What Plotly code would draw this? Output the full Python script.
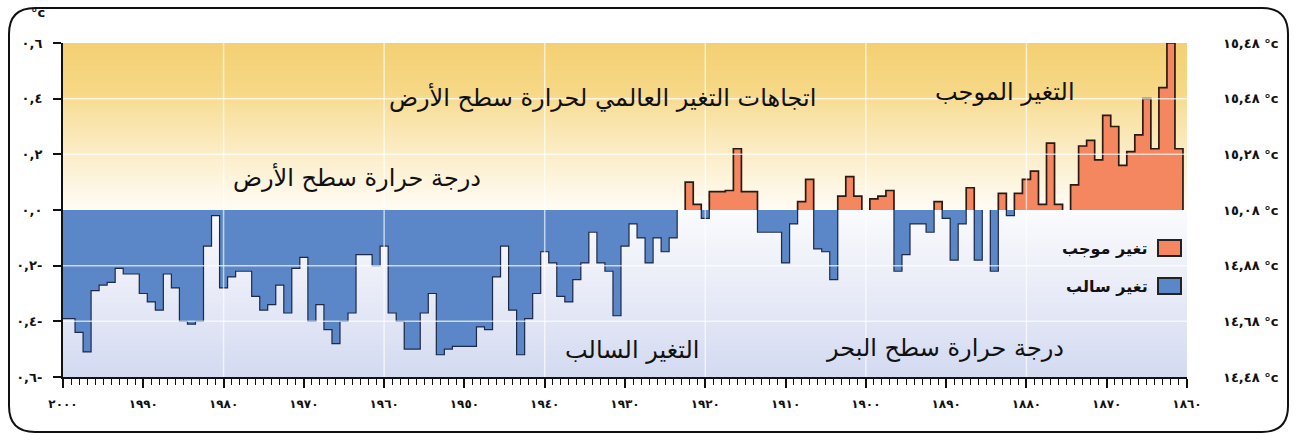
import plotly.graph_objects as go

# ---------------- data ----------------
years = list(range(2000, 1859, -1))
anomaly = [
    -0.39, -0.39, -0.44, -0.51, -0.29, -0.27, -0.26, -0.21, -0.23, -0.23,   # 2000-1991
    -0.30, -0.33, -0.36, -0.23, -0.28, -0.40, -0.41, -0.40, -0.13, -0.02,   # 1990-1981
    -0.28, -0.24, -0.22, -0.22, -0.31, -0.36, -0.34, -0.27, -0.37, -0.21,   # 1980-1971
    -0.17, -0.40, -0.34, -0.43, -0.48, -0.40, -0.37, -0.16, -0.16, -0.20,   # 1970-1961
    -0.13, -0.37, -0.40, -0.50, -0.50, -0.37, -0.30, -0.52, -0.50, -0.49,   # 1960-1951
    -0.49, -0.49, -0.42, -0.43, -0.24, -0.13, -0.36, -0.52, -0.39, -0.30,   # 1950-1941
    -0.15, -0.19, -0.31, -0.33, -0.25, -0.19, -0.08, -0.19, -0.22, -0.38,   # 1940-1931
    -0.13, -0.05, -0.10, -0.19, -0.10, -0.15, -0.10, 0.00, 0.10, 0.02,      # 1930-1921
    -0.03, 0.066, 0.066, 0.07, 0.22, 0.066, 0.066, -0.08, -0.08, -0.08,     # 1920-1911
    -0.19, -0.05, 0.03, 0.11, -0.14, -0.15, -0.25, 0.05, 0.12, 0.05,        # 1910-1901
    0.00, 0.04, 0.05, 0.07, -0.22, -0.16, -0.05, -0.05, -0.08, 0.03,        # 1900-1891
    -0.03, -0.18, -0.05, 0.08, -0.18, 0.00, -0.22, 0.06, -0.02, 0.06,       # 1890-1881
    0.11, 0.14, 0.02, 0.24, 0.02, 0.00, 0.09, 0.23, 0.25, 0.18,             # 1880-1871
    0.34, 0.30, 0.16, 0.21, 0.27, 0.40, 0.22, 0.44, 0.60, 0.22,             # 1870-1861
    0.00,                                                                    # 1860
]

x_tick_vals = list(range(2000, 1859, -10))
x_tick_text = ["٢٠٠٠", "١٩٩٠", "١٩٨٠", "١٩٧٠", "١٩٦٠", "١٩٥٠", "١٩٤٠", "١٩٣٠",
               "١٩٢٠", "١٩١٠", "١٩٠٠", "١٨٩٠", "١٨٨٠", "١٨٧٠", "١٨٦٠"]
y_tick_vals = [-0.6, -0.4, -0.2, 0.0, 0.2, 0.4, 0.6]
y_tick_text = ["٠,٦-", "٠,٤-", "٠,٢-", "٠,٠", "٠,٢", "٠,٤", "٠,٦"]
y2_tick_text = ["١٤,٤٨ °c", "١٤,٦٨ °c", "١٤,٨٨ °c", "١٥,٠٨ °c", "١٥,٢٨ °c", "١٥,٤٨ °c", "١٥,٤٨ °c"]

legend_labels = ["تغير موجب", "تغير سالب"]
title_text = "اتجاهات التغير العالمي لحرارة سطح الأرض"
label_pos = "التغير الموجب"
label_neg = "التغير السالب"
label_land = "درجة حرارة سطح الأرض"
label_sea = "درجة حرارة سطح البحر"

POS_COLOR = "#f4875f"
NEG_COLOR = "#5b86c7"

# ---------------- geometry helpers (pixels -> paper) ----------------
W, H = 1296, 440
L, R, T, B = 63, 109, 43, 63
PW, PH = W - L - R, H - T - B


def px(xp):
    return (xp - L) / PW


def py(yp):
    return (H - B - yp) / PH


def hex2rgb(h):
    h = h.lstrip("#")
    return [int(h[i:i + 2], 16) for i in (0, 2, 4)]


def interp(stops, t):
    for (t0, c0), (t1, c1) in zip(stops[:-1], stops[1:]):
        if t0 <= t <= t1:
            f = 0 if t1 == t0 else (t - t0) / (t1 - t0)
            a, b = hex2rgb(c0), hex2rgb(c1)
            return "rgb(%d,%d,%d)" % tuple(round(a[k] + (b[k] - a[k]) * f) for k in range(3))
    return stops[-1][1]


def step_outline(yrs, vals):
    xs, ys = [], []
    prev = 0.0
    pairs = sorted(zip(yrs, vals))
    for yr, v in pairs:
        left, right = yr - 0.5, yr + 0.5
        if v == 0:
            if prev != 0:
                xs += [left, None]
                ys += [0, None]
            prev = 0.0
            continue
        if prev == 0:
            xs.append(left)
            ys.append(0)
        xs += [left, right]
        ys += [v, v]
        prev = v
    if prev != 0:
        xs.append(pairs[-1][0] + 0.5)
        ys.append(0)
    return xs, ys


pos_vals = [v if v > 0 else 0 for v in anomaly]
neg_vals = [v if v < 0 else 0 for v in anomaly]

fig = go.Figure()

# bars
fig.add_trace(go.Bar(x=[y for y, v in zip(years, anomaly) if v > 0],
                     y=[v for v in anomaly if v > 0], width=1,
                     marker=dict(color=POS_COLOR, line=dict(width=0)),
                     name=legend_labels[0], showlegend=False))
fig.add_trace(go.Bar(x=[y for y, v in zip(years, anomaly) if v < 0],
                     y=[v for v in anomaly if v < 0], width=1,
                     marker=dict(color=NEG_COLOR, line=dict(width=0)),
                     name=legend_labels[1], showlegend=False))

# outlines
ox, oy = step_outline(years, pos_vals)
fig.add_trace(go.Scatter(x=ox, y=oy, mode="lines", line=dict(color="#2b1a12", width=1.7),
                         hoverinfo="skip", showlegend=False, connectgaps=False))
ox, oy = step_outline(years, neg_vals)
fig.add_trace(go.Scatter(x=ox, y=oy, mode="lines", line=dict(color="#1d2a47", width=1.2),
                         hoverinfo="skip", showlegend=False, connectgaps=False))

# right axis holder
fig.add_trace(go.Scatter(x=[None], y=[None], yaxis="y2", showlegend=False, hoverinfo="skip"))

shapes = []
# gradient background (thin stripes)
top_stops = [(0.0, "#fffcf5"), (0.3, "#fcefcd"), (0.62, "#f8df9c"), (0.7, "#f6d886"), (1.0, "#f4d073")]
bot_stops = [(0.0, "#fafbfd"), (0.4, "#eceef8"), (1.0, "#d3daf1")]
N = 120
for i in range(N):
    t = (i + 0.5) / N
    shapes.append(dict(type="rect", xref="paper", yref="y", x0=0, x1=1,
                       y0=0.6 * i / N, y1=0.6 * (i + 1) / N + 0.003,
                       fillcolor=interp(top_stops, t), line=dict(width=0), layer="below"))
    shapes.append(dict(type="rect", xref="paper", yref="y", x0=0, x1=1,
                       y0=-0.6 * i / N, y1=-0.6 * (i + 1) / N - 0.003,
                       fillcolor=interp(bot_stops, t), line=dict(width=0), layer="below"))

# gridlines above bars
for gv in [-0.4, -0.2, 0.2, 0.4]:
    shapes.append(dict(type="line", xref="paper", yref="y", x0=0, x1=1, y0=gv, y1=gv,
                       line=dict(color="rgba(255,255,255,0.7)", width=1.5), layer="above"))
for gx in [1980, 1960, 1940, 1920, 1900, 1880]:
    shapes.append(dict(type="line", xref="x", yref="paper", x0=gx, x1=gx, y0=0, y1=1,
                       line=dict(color="rgba(255,255,255,0.65)", width=1.5), layer="above"))

# rounded frame
fx0, fx1, fy0, fy1, r = 9, 1288, 8, 432, 26
path = (f"M {px(fx0+r)},{py(fy0)} L {px(fx1-r)},{py(fy0)} "
        f"Q {px(fx1)},{py(fy0)} {px(fx1)},{py(fy0+r)} "
        f"L {px(fx1)},{py(fy1-r)} Q {px(fx1)},{py(fy1)} {px(fx1-r)},{py(fy1)} "
        f"L {px(fx0+r)},{py(fy1)} Q {px(fx0)},{py(fy1)} {px(fx0)},{py(fy1-r)} "
        f"L {px(fx0)},{py(fy0+r)} Q {px(fx0)},{py(fy0)} {px(fx0+r)},{py(fy0)} Z")
shapes.append(dict(type="path", xref="paper", yref="paper", path=path,
                   line=dict(color="#111", width=2), layer="above"))

# legend squares
for i, col in enumerate([POS_COLOR, NEG_COLOR]):
    yc = 248 + i * 38
    shapes.append(dict(type="rect", xref="paper", yref="paper",
                       x0=px(1158), x1=px(1181), y0=py(yc + 8), y1=py(yc - 8),
                       fillcolor=col, line=dict(color="#222", width=2), layer="above"))

annotations = []
AR = "DejaVu Sans"


def label(text, xp, yp, size=24, anchor="center", bold=False):
    annotations.append(dict(text=f"<b>{text}</b>" if bold else text, x=px(xp), y=py(yp),
                            xref="paper", yref="paper", xanchor=anchor, yanchor="middle",
                            showarrow=False, font=dict(family=AR, size=size, color="#111")))


label(title_text, 602, 97)
label(label_pos, 1005, 92)
label(label_land, 357, 177)
label(label_neg, 632, 350)
label(label_sea, 945, 348)
for i, lab in enumerate(legend_labels):
    label(lab, 1150, 248 + i * 38, size=16, anchor="right", bold=True)
label("°c", 38, 12, size=13, bold=True)

fig.update_layout(
    width=W, height=H,
    margin=dict(l=L, r=R, t=T, b=B, autoexpand=False),
    paper_bgcolor="white", plot_bgcolor="white",
    barmode="overlay", bargap=0,
    showlegend=False,
    shapes=shapes, annotations=annotations,
    xaxis=dict(range=[2000, 1860], tickvals=x_tick_vals, ticktext=x_tick_text,
               ticks="outside", ticklen=9, tickwidth=2, tickcolor="#111", automargin=False,
               ticklabelstandoff=6,
               minor=dict(dtick=1, tick0=1860, ticks="outside", ticklen=6, tickwidth=1, tickcolor="#111",
                          showgrid=False),
               showline=True, linecolor="#111", linewidth=2, showgrid=False, zeroline=False,
               tickfont=dict(family=AR, size=12, color="#111", weight="bold"), layer="above traces"),
    yaxis=dict(range=[-0.6, 0.6], tickvals=y_tick_vals, ticktext=y_tick_text, automargin=False,
               ticks="outside", ticklen=8, tickwidth=2, tickcolor="#111", ticklabelstandoff=8,
               showline=True, linecolor="#111", linewidth=2, showgrid=False, zeroline=False,
               tickfont=dict(family=AR, size=13, color="#111", weight="bold"), layer="above traces"),
    yaxis2=dict(range=[-0.6, 0.6], overlaying="y", side="right", tickvals=y_tick_vals,
                ticktext=y2_tick_text, showline=False, showgrid=False, zeroline=False, ticks="",
                ticklabelstandoff=35, automargin=False,
                tickfont=dict(family=AR, size=13, color="#111", weight="bold")),
)

fig.write_html("out.html", config={"displayModeBar": False},
               post_script="document.body.style.margin='0px';")
